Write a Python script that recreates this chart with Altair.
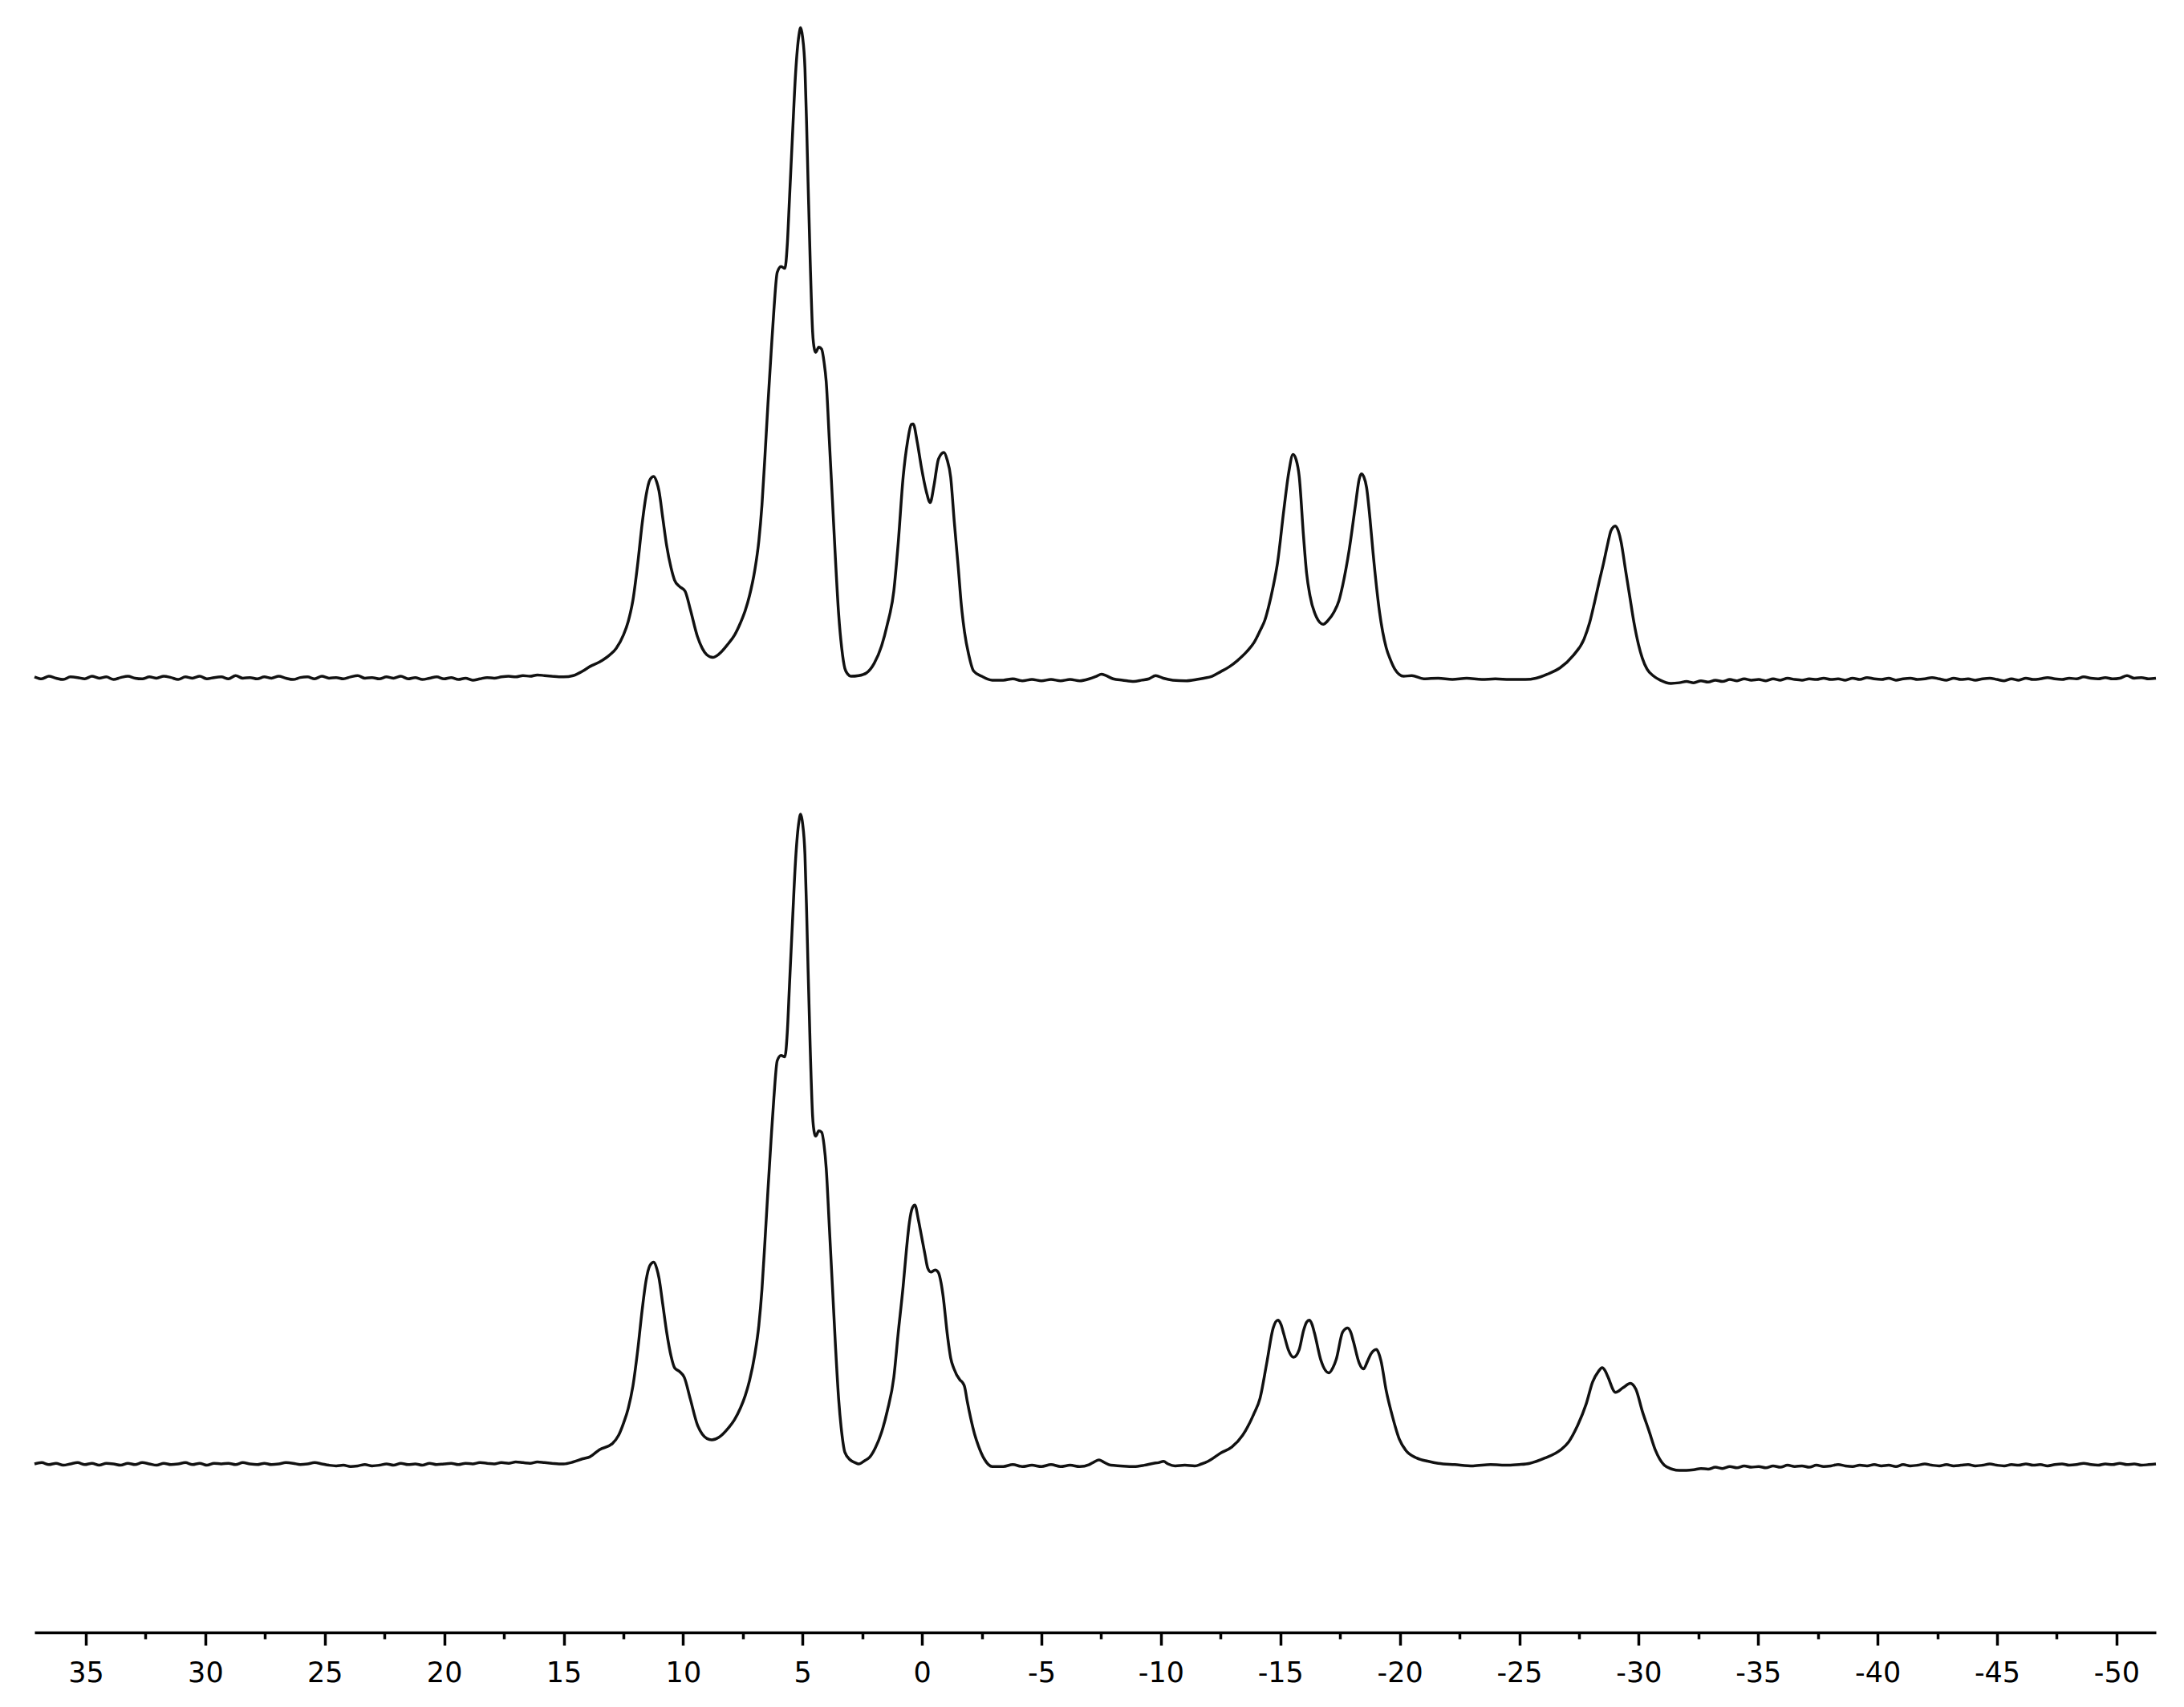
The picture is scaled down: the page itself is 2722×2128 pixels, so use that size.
import altair as alt
import numpy as np
import pandas as pd

# ---- x-axis tick values (ppm) ----
tick_values = [35, 32.5, 30, 27.5, 25, 22.5, 20, 17.5, 15, 12.5, 10, 7.5, 5, 2.5, 0,
               -2.5, -5, -7.5, -10, -12.5, -15, -17.5, -20, -22.5, -25, -27.5, -30,
               -32.5, -35, -37.5, -40, -42.5, -45, -47.5, -50]

# ---- upper spectrum: signal region (ppm, intensity; tallest peak = 100) ----
top_ppm = [15.0, 14.6, 14.2, 13.9, 13.5, 13.13, 12.8, 12.49, 12.3, 12.1, 11.9, 11.71, 11.55, 11.39,
           11.23, 11.1, 11.01, 10.85, 10.69, 10.5, 10.36, 10.15, 9.92, 9.7, 9.4, 9.2, 9.01, 8.76,
           8.5, 8.11, 7.85, 7.6, 7.4, 7.22, 7.0, 6.83, 6.7, 6.57, 6.45, 6.32, 6.2, 6.06, 5.9, 5.74,
           5.64, 5.55, 5.42, 5.29, 5.15, 5.08, 5.0, 4.9, 4.83, 4.77, 4.68, 4.58, 4.5, 4.45, 4.32,
           4.2, 4.1, 4.01, 3.88, 3.75, 3.62, 3.49, 3.36, 3.23, 3.1, 2.98, 2.65, 2.33, 2.0, 1.69,
           1.45, 1.18, 1.0, 0.79, 0.6, 0.45, 0.37, 0.2, 0.02, -0.18, -0.34, -0.5, -0.69, -0.92,
           -1.05, -1.2, -1.35, -1.52, -1.65, -1.78, -1.95, -2.16, -2.5, -2.94,
           -3.4, -3.8, -4.2, -4.6, -5.0, -5.4, -5.8, -6.2, -6.6, -7.0, -7.3, -7.51, -7.7, -8.0,
           -8.4, -8.87, -9.2, -9.5, -9.78, -10.1, -10.5, -11.06, -11.5, -11.8, -12.14, -12.5,
           -12.88, -13.2, -13.6, -13.9, -14.15, -14.35, -14.51, -14.7, -14.88, -15.15, -15.35,
           -15.53, -15.66, -15.79, -15.97, -16.1, -16.24, -16.51, -16.79, -17.0, -17.25, -17.45,
           -17.61, -17.88, -18.15, -18.3, -18.39, -18.5, -18.61, -18.75, -18.88, -19.15, -19.43,
           -19.6, -19.79, -20.16, -20.5, -21.0, -21.61, -22.2, -22.8, -23.43, -24.0, -24.6,
           -25.26, -25.7, -26.16, -26.71, -27.26, -27.71, -27.95, -28.16, -28.35, -28.53, -28.7,
           -28.84, -29.02, -29.14, -29.26, -29.45, -29.62, -29.8, -29.99, -30.15, -30.35, -30.6,
           -30.9, -31.35, -31.7]
top_int = [0.1, 0.3, 1.0, 1.7, 2.4, 3.3, 4.5, 6.6, 8.6, 11.9, 17.5, 23.8, 28.0, 30.4,
           30.9, 30.0, 28.7, 24.5, 20.3, 16.8, 15.0, 14.0, 13.3, 10.5, 6.3, 4.5, 3.5, 3.1,
           3.6, 5.2, 6.5, 8.4, 10.3, 12.6, 16.5, 21.0, 26.5, 34.3, 42.0, 49.7, 56.5, 62.3, 63.2, 62.9,
           66.5, 73.4, 83.5, 93.0, 98.8, 99.9, 98.5, 93.7, 85.0, 76.2, 64.0, 53.2, 50.4, 50.0, 50.8,
           50.5, 48.5, 45.5, 36.5, 27.3, 18.0, 9.8, 4.5, 1.4, 0.5, 0.2, 0.3, 0.7, 2.2, 4.9,
           8.2, 13.3, 20.5, 30.8, 36.4, 38.9, 39.0, 36.2, 32.2, 28.6, 26.9, 29.5, 33.6, 34.6,
           33.5, 30.8, 24.0, 16.8, 11.0, 7.0, 3.6, 1.0, 0.2, -0.4,
           -0.4, -0.2, -0.5, -0.3, -0.5, -0.3, -0.5, -0.3, -0.5, -0.2, 0.2, 0.5, 0.3, -0.2,
           -0.4, -0.6, -0.4, -0.2, 0.3, -0.1, -0.4, -0.5, -0.3, -0.1, 0.2, 0.9,
           1.7, 2.6, 4.0, 5.4, 7.2, 8.8, 10.9, 14.0, 17.6, 25.9, 31.5,
           34.3, 33.5, 30.9, 21.7, 16.0, 12.6, 9.3, 8.2, 8.8, 10.1, 11.8,
           14.2, 19.6, 26.7, 30.5, 31.3, 30.8, 29.2, 24.5, 19.2, 10.1, 4.6,
           2.8, 1.3, 0.2, 0.3, -0.2, -0.1, -0.3, -0.1, -0.3, -0.2, -0.3,
           -0.3, -0.1, 0.5, 1.5, 3.4, 5.9, 8.5, 11.7, 14.8, 17.6, 20.5,
           22.6, 23.3, 22.6, 20.9, 16.5, 12.6, 8.5, 5.1, 3.0, 1.3, 0.3,
           -0.4, -0.9, -0.8]

# upper spectrum baseline noise (left: 37.15 -> 15.2 ppm, right: -32.0 -> -51.65 ppm)
top_left_base = [0.1, -0.2, 0.2, -0.1, -0.3, 0.1, 0.0, -0.2, 0.2, -0.1, 0.1, -0.3, 0.0, 0.2,
                 -0.1, -0.2, 0.1, -0.1, 0.2, 0.0, -0.3, 0.1, -0.1, 0.2, -0.2, 0.0, 0.1, -0.2,
                 0.3, -0.1, 0.0, -0.2, 0.1, -0.1, 0.2, -0.1, -0.3, 0.0, 0.1, -0.2, 0.2, -0.1,
                 0.0, -0.2, 0.1, 0.3, -0.1, 0.0, -0.2, 0.1, -0.1, 0.2, -0.2, 0.0, -0.3, -0.1,
                 0.1, -0.2, 0.0, -0.3, -0.1, -0.4, -0.2, 0.0, -0.1, 0.1, 0.2, 0.1, 0.3, 0.2,
                 0.4, 0.3, 0.2, 0.1]
top_right_base = [-0.6, -0.8, -0.5, -0.7, -0.4, -0.6, -0.3, -0.5, -0.2, -0.4, -0.3, -0.5, -0.2,
                  -0.4, -0.1, -0.3, -0.4, -0.2, -0.3, -0.1, -0.3, -0.2, -0.4, -0.1, -0.3, 0.0,
                  -0.2, -0.3, -0.1, -0.4, -0.2, -0.1, -0.3, -0.2, 0.0, -0.2, -0.4, -0.1, -0.3,
                  -0.2, -0.4, -0.2, -0.1, -0.3, -0.5, -0.2, -0.4, -0.1, -0.3, -0.2, 0.0, -0.2,
                  -0.3, -0.1, -0.2, 0.1, -0.1, -0.2, 0.0, -0.2, -0.1, 0.3, -0.1, 0.0, -0.2, -0.1]

# ---- lower spectrum: signal region ----
bot_ppm = [15.0, 14.6, 14.2, 13.9, 13.5, 12.97, 12.7, 12.49, 12.3, 12.1, 11.9, 11.71, 11.55, 11.39,
           11.23, 11.1, 11.01, 10.85, 10.69, 10.5, 10.36, 10.15, 9.95, 9.7, 9.4, 9.2, 9.0, 8.8,
           8.5, 8.11, 7.85, 7.6, 7.4, 7.22, 7.0, 6.83, 6.7, 6.57, 6.45, 6.32, 6.2, 6.06, 5.9, 5.74,
           5.64, 5.55, 5.42, 5.29, 5.15, 5.08, 5.0, 4.9, 4.83, 4.77, 4.68, 4.58, 4.5, 4.45, 4.32,
           4.2, 4.1, 4.01, 3.88, 3.75, 3.62, 3.49, 3.36, 3.23, 3.0, 2.8, 2.65, 2.4, 2.2, 1.95,
           1.69, 1.45, 1.18, 1.0, 0.79, 0.65, 0.53, 0.4, 0.3, 0.15, 0.02, -0.12, -0.24, -0.37,
           -0.55, -0.69, -0.8, -0.88, -1.07, -1.2, -1.33, -1.59, -1.7, -1.78, -1.9, -2.04, -2.2,
           -2.36, -2.6, -2.94,
           -3.4, -3.8, -4.2, -4.6, -5.0, -5.4, -5.8, -6.2, -6.6, -7.0, -7.2, -7.41, -7.6, -7.9,
           -8.3, -8.87, -9.3, -9.69, -9.9, -10.11, -10.3, -10.6, -11.0, -11.42, -11.7, -11.97,
           -12.51, -12.97, -13.42, -13.88, -14.15, -14.43, -14.7, -14.9, -15.02, -15.15, -15.33,
           -15.55, -15.79, -15.97, -16.1, -16.21, -16.32, -16.43, -16.7, -17.03, -17.2, -17.34,
           -17.61, -17.82, -17.95, -18.06, -18.3, -18.48, -18.65, -18.79, -19.02, -19.12, -19.21,
           -19.43, -19.7, -19.98, -20.25, -20.71, -21.2, -21.61, -22.3, -23.07, -23.8, -24.53,
           -25.0, -25.44, -26.07, -26.71, -27.07, -27.44, -27.8, -28.07, -28.31, -28.47, -28.6,
           -28.71, -29.03, -29.34, -29.65, -29.75, -29.88, -30.16, -30.43, -30.7, -31.07, -31.4,
           -31.7]
bot_int = [0.0, 0.3, 0.8, 1.1, 2.2, 3.1, 4.4, 6.3, 8.5, 12.0, 17.5, 23.8, 28.2, 30.5,
           31.0, 30.0, 28.6, 24.5, 20.3, 16.5, 14.8, 14.2, 13.3, 10.0, 6.0, 4.6, 3.9, 3.7,
           4.1, 5.5, 6.8, 8.6, 10.5, 12.8, 16.8, 21.3, 26.8, 34.5, 42.0, 49.7, 56.3, 62.0, 62.8, 62.6,
           66.3, 73.4, 83.5, 93.0, 98.8, 99.9, 98.5, 93.7, 85.0, 76.2, 64.0, 53.5, 50.8, 50.4, 51.2,
           51.0, 49.0, 45.5, 36.5, 27.3, 18.0, 10.0, 4.8, 1.8, 0.6, 0.2, 0.0, 0.5, 1.0, 2.5,
           4.9, 8.2, 13.3, 20.0, 27.3, 33.0, 37.1, 39.4, 39.8, 37.5, 35.0, 32.3, 30.1, 29.5,
           29.8, 29.4, 27.8, 25.9, 19.6, 16.3, 14.7, 12.9, 12.5, 11.9, 9.5, 7.0, 4.6,
           2.8, 0.8, -0.4,
           -0.4, -0.1, -0.4, -0.2, -0.4, -0.1, -0.4, -0.2, -0.4, -0.1, 0.3, 0.6, 0.3, -0.2,
           -0.3, -0.4, -0.2, 0.1, 0.2, 0.4, 0.0, -0.3, -0.2, -0.3, 0.0, 0.4,
           1.7, 2.6, 4.4, 7.6, 10.1, 15.5, 20.9, 22.1, 21.5, 19.9, 17.6,
           16.4, 17.6, 20.5, 21.8, 22.1, 21.5, 20.1, 15.9, 14.0, 14.8, 16.1,
           20.3, 20.9, 20.2, 18.8, 15.5, 14.6, 15.8, 16.9, 17.6, 17.0, 15.9,
           11.3, 7.2, 3.8, 2.1, 0.9, 0.4, 0.1, -0.1, -0.3, -0.1, -0.2,
           -0.1, 0.1, 0.9, 2.1, 3.4, 5.9, 9.2, 12.6, 14.2, 14.8, 14.3,
           13.4, 11.0, 11.7, 12.4, 12.2, 11.5, 8.0, 5.1, 2.1, -0.2, -0.8,
           -1.0]

bot_left_base = [0.0, 0.2, -0.1, 0.1, -0.2, 0.0, 0.2, -0.1, 0.1, -0.2, 0.1, 0.0, -0.2, 0.1,
                 -0.1, 0.2, 0.0, -0.2, 0.1, -0.1, 0.0, 0.2, -0.1, 0.1, -0.2, 0.1, 0.0, 0.1,
                 -0.1, 0.2, 0.0, -0.1, 0.1, -0.1, 0.0, 0.2, 0.1, -0.1, 0.0, 0.2, 0.0, -0.2,
                 -0.3, -0.2, -0.4, -0.3, -0.1, -0.3, -0.2, 0.0, -0.2, 0.1, -0.1, 0.0, -0.2, 0.1,
                 -0.1, 0.0, 0.1, -0.1, 0.1, 0.0, 0.2, 0.1, 0.0, 0.2, 0.1, 0.3, 0.2, 0.1,
                 0.3, 0.2, 0.1, 0.0]
bot_right_base = [-1.0, -0.9, -0.7, -0.8, -0.5, -0.7, -0.4, -0.6, -0.3, -0.5, -0.4, -0.6, -0.3,
                  -0.5, -0.2, -0.4, -0.3, -0.5, -0.2, -0.4, -0.3, -0.1, -0.3, -0.4, -0.2, -0.3,
                  -0.1, -0.3, -0.2, -0.4, -0.1, -0.3, -0.2, 0.0, -0.2, -0.3, -0.1, -0.3, -0.2,
                  -0.1, -0.3, -0.2, 0.0, -0.2, -0.3, -0.1, -0.2, 0.0, -0.2, -0.1, -0.3, -0.1,
                  0.0, -0.2, -0.1, 0.1, -0.1, -0.2, 0.0, -0.1, 0.1, -0.1, 0.0, -0.2, -0.1, 0.0]

# vertical offset of the upper spectrum above the lower one (intensity units)
TOP_OFFSET = 120.9

def build(name, ppm, vals, left, right, offset):
    xs = list(np.linspace(37.15, 15.2, len(left))) + list(ppm) + list(np.linspace(-32.0, -51.65, len(right)))
    ys = list(left) + list(vals) + list(right)
    return pd.DataFrame({"ppm": xs, "y": [v + offset for v in ys], "trace": name})

df = pd.concat([
    build("upper", top_ppm, top_int, top_left_base, top_right_base, TOP_OFFSET),
    build("lower", bot_ppm, bot_int, bot_left_base, bot_right_base, 0.0),
], ignore_index=True)

chart = alt.Chart(df).mark_line(
    color="#111111", strokeWidth=3.5, interpolate="monotone"
).encode(
    x=alt.X("ppm:Q",
            scale=alt.Scale(domain=[-51.65, 37.15], reverse=True, nice=False, zero=False),
            axis=alt.Axis(
                values=tick_values,
                title=None,
                grid=False,
                labelExpr="datum.value % 5 === 0 ? '' + datum.value : ''",
                labelOverlap=False,
                labelFlush=False,
                tickSize={"condition": {"test": "datum.value % 5 === 0", "value": 16}, "value": 8},
                labelPadding=17,
            )),
    y=alt.Y("y:Q", scale=alt.Scale(domain=[-25.9, 222.6], nice=False, zero=False), axis=None),
    detail="trace:N",
).properties(
    width=2644,
    height=2015,
    padding={"left": 28, "top": 12, "right": 10, "bottom": 10},
).configure_view(
    strokeWidth=0
).configure_axis(
    domainColor="#000000",
    domainWidth=3.5,
    tickColor="#000000",
    tickWidth=3.5,
    labelColor="#000000",
    labelFont="DejaVu Sans",
    labelFontSize=35,
)

chart.save("out.html", embed_options={"renderer": "svg", "actions": False})
